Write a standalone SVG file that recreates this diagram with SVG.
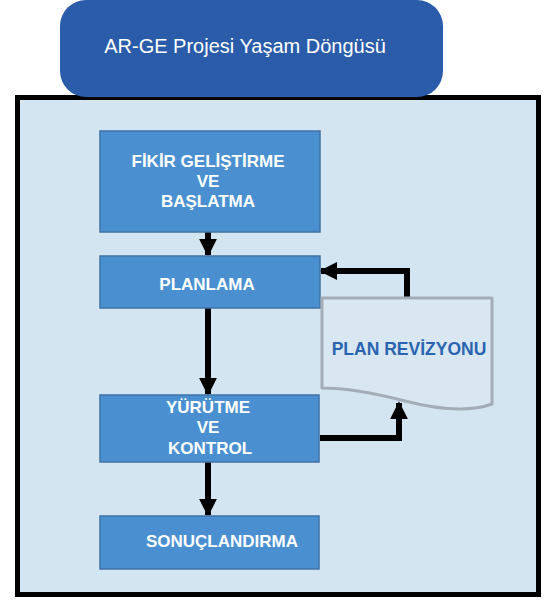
<svg xmlns="http://www.w3.org/2000/svg" width="546" height="601" viewBox="0 0 546 601">
<defs>
<style>
.box{fill:#4a90d0;stroke:#3f72a6;stroke-width:1.5}
.bt{font-family:"Liberation Sans",Arial,sans-serif;font-weight:bold;font-size:17px;fill:#ffffff;text-anchor:middle}
.con{fill:none;stroke:#000;stroke-width:6}
</style>
<marker id="ah" viewBox="0 0 10 10" refX="9" refY="5" markerWidth="3" markerHeight="3" orient="auto" markerUnits="strokeWidth">
<path d="M0,0 L10,5 L0,10 Z" fill="#000"/>
</marker>
</defs>
<rect x="0" y="0" width="546" height="601" fill="#ffffff"/>
<g id="frame">
<rect x="17.5" y="97.5" width="521" height="497" fill="#d4e5f2" stroke="#000" stroke-width="5"/>
</g>
<g id="title">
<rect x="60" y="0" width="383" height="97" rx="26" ry="26" fill="#2a5caa"/>
<text x="245" y="53" font-family="'Liberation Sans',Arial,sans-serif" font-size="20" fill="#ffffff" text-anchor="middle">AR-GE Projesi Yaşam Döngüsü</text>
</g>
<g id="connectors">
<line class="con" x1="208" y1="232" x2="208" y2="255" marker-end="url(#ah)"/>
<line class="con" x1="208" y1="308" x2="208" y2="394" marker-end="url(#ah)"/>
<line class="con" x1="208" y1="462" x2="208" y2="515" marker-end="url(#ah)"/>
<polyline class="con" points="407,298 407,271 321,271" marker-end="url(#ah)"/>
<polyline class="con" points="320,438 399,438 399,403" marker-end="url(#ah)"/>
</g>
<g id="n1">
<rect class="box" x="100" y="131" width="220" height="101"/>
<text class="bt" x="208" y="167">FİKİR GELİŞTİRME</text>
<text class="bt" x="208" y="187">VE</text>
<text class="bt" x="208" y="207">BAŞLATMA</text>
</g>
<g id="n2">
<rect class="box" x="100" y="256" width="220" height="52"/>
<text class="bt" x="207" y="290">PLANLAMA</text>
</g>
<g id="n3">
<rect class="box" x="100" y="395" width="219" height="67"/>
<text class="bt" x="208" y="413">YÜRÜTME</text>
<text class="bt" x="208" y="433">VE</text>
<text class="bt" x="210" y="454">KONTROL</text>
</g>
<g id="n4">
<rect class="box" x="100" y="516" width="219" height="53"/>
<text class="bt" x="222" y="547">SONUÇLANDIRMA</text>
</g>
<g id="n5">
<path d="M322,298 L492,298 L492,404 C470,412 440,410 405,401 C370,392 345,388 322,388 Z" fill="#d9e7f3" stroke="#a3adb8" stroke-width="3" stroke-linejoin="round"/>
<text x="409" y="355" font-family="'Liberation Sans',Arial,sans-serif" font-weight="bold" font-size="17.5" fill="#2a64b0" text-anchor="middle">PLAN REVİZYONU</text>
</g>
</svg>
